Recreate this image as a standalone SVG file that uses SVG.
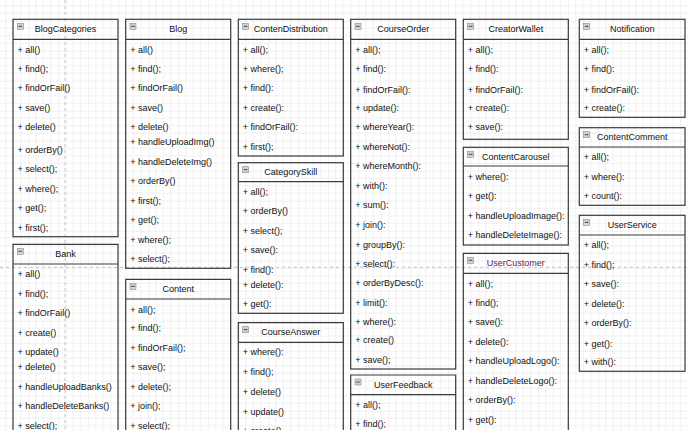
<svg xmlns="http://www.w3.org/2000/svg" width="688" height="430" viewBox="0 0 688 430">
<style>
.box{fill:none;stroke:#3a3a3a;stroke-width:1.2}
.sep{stroke:#3a3a3a;stroke-width:1.2}
.ico{fill:#d2d2d2;stroke:#8a8a8a;stroke-width:0.6}
.icm{stroke:#333;stroke-width:0.9}
.t{font-family:"Liberation Sans",Arial,sans-serif;font-size:9px;fill:#111}
.h{font-family:"Liberation Sans",Arial,sans-serif;font-size:9px;fill:#111;text-anchor:middle}
.pb{stroke:#c4c4c4;stroke-width:1;stroke-dasharray:3,3;fill:none}
</style>
<defs>
<pattern id="grid" patternUnits="userSpaceOnUse" x="-1.7" y="-9.3" width="30" height="30">
<path d="M7.5 0V30M15 0V30M22.5 0V30M0 7.5H30M0 15H30M0 22.5H30" stroke="#f0f0f0" stroke-width="1" fill="none"/>
<path d="M0 0V30M0 0H30" stroke="#e2e2e2" stroke-width="1" fill="none"/>
</pattern>
</defs>
<rect width="688" height="430" fill="#ffffff"/>
<rect width="688" height="430" fill="url(#grid)"/>
<path class="pb" d="M65 0V430M0 267.3H688"/>
<g id="connectors"></g>

<g id="BlogCategories">
<rect class="box" x="13" y="19.3" width="105" height="217.4"/>
<line class="sep" x1="13" y1="39.3" x2="118" y2="39.3"/>
<rect class="ico" x="17.3" y="23.3" width="6" height="6"/><line class="icm" x1="18.5" y1="26.3" x2="22.1" y2="26.3"/>
<text class="h" x="65.5" y="32">BlogCategories</text>
<text class="t" x="17.5" y="52.6">+ all()</text>
<text class="t" x="17.5" y="72.3">+ find();</text>
<text class="t" x="17.5" y="91.3">+ findOrFail()</text>
<text class="t" x="17.5" y="111">+ save()</text>
<text class="t" x="17.5" y="130.3">+ delete()</text>
<text class="t" x="17.5" y="153.3">+ orderBy()</text>
<text class="t" x="17.5" y="172.3">+ select();</text>
<text class="t" x="17.5" y="192.3">+ where();</text>
<text class="t" x="17.5" y="211.3">+ get();</text>
<text class="t" x="17.5" y="231">+ first();</text>
</g>

<g id="Bank">
<path class="box" d="M13 440V244.3H118V440"/>
<line class="sep" x1="13" y1="264" x2="118" y2="264"/>
<rect class="ico" x="17.3" y="248.3" width="6" height="6"/><line class="icm" x1="18.5" y1="251.3" x2="22.1" y2="251.3"/>
<text class="h" x="65.5" y="257">Bank</text>
<text class="t" x="17.5" y="277">+ all()</text>
<text class="t" x="17.5" y="297">+ find();</text>
<text class="t" x="17.5" y="316">+ findOrFail()</text>
<text class="t" x="17.5" y="336">+ create()</text>
<text class="t" x="17.5" y="355.3">+ update()</text>
<text class="t" x="17.5" y="370">+ delete()</text>
<text class="t" x="17.5" y="390">+ handleUploadBanks()</text>
<text class="t" x="17.5" y="409">+ handleDeleteBanks()</text>
<text class="t" x="17.5" y="429">+ select();</text>
</g>

<g id="Blog">
<rect class="box" x="125.7" y="19.3" width="105" height="249"/>
<line class="sep" x1="125.7" y1="39.3" x2="230.7" y2="39.3"/>
<rect class="ico" x="130" y="23.3" width="6" height="6"/><line class="icm" x1="131.2" y1="26.3" x2="134.8" y2="26.3"/>
<text class="h" x="178.2" y="32">Blog</text>
<text class="t" x="130.2" y="52.6">+ all()</text>
<text class="t" x="130.2" y="72.3">+ find();</text>
<text class="t" x="130.2" y="91.3">+ findOrFail()</text>
<text class="t" x="130.2" y="111">+ save()</text>
<text class="t" x="130.2" y="130.3">+ delete()</text>
<text class="t" x="130.2" y="145.3">+ handleUploadImg()</text>
<text class="t" x="130.2" y="165.3">+ handleDeleteImg()</text>
<text class="t" x="130.2" y="184.3">+ orderBy()</text>
<text class="t" x="130.2" y="204">+ first();</text>
<text class="t" x="130.2" y="223.3">+ get();</text>
<text class="t" x="130.2" y="243.3">+ where();</text>
<text class="t" x="130.2" y="262.3">+ select();</text>
</g>

<g id="Content">
<path class="box" d="M125.7 440V279.3H230.7V440"/>
<line class="sep" x1="125.7" y1="299" x2="230.7" y2="299"/>
<rect class="ico" x="130" y="283.3" width="6" height="6"/><line class="icm" x1="131.2" y1="286.3" x2="134.8" y2="286.3"/>
<text class="h" x="178.2" y="292.3">Content</text>
<text class="t" x="130.2" y="312.6">+ all();</text>
<text class="t" x="130.2" y="331.3">+ find();</text>
<text class="t" x="130.2" y="351">+ findOrFail();</text>
<text class="t" x="130.2" y="370.3">+ save();</text>
<text class="t" x="130.2" y="390">+ delete();</text>
<text class="t" x="130.2" y="409.3">+ join();</text>
<text class="t" x="130.2" y="429">+ select();</text>
</g>

<g id="ContenDistribution">
<rect class="box" x="238.3" y="19.3" width="105" height="136.7"/>
<line class="sep" x1="238.3" y1="39.3" x2="343.3" y2="39.3"/>
<rect class="ico" x="242.6" y="23.3" width="6" height="6"/><line class="icm" x1="243.8" y1="26.3" x2="247.4" y2="26.3"/>
<text class="h" x="290.8" y="32">ContenDistribution</text>
<text class="t" x="242.8" y="52.6">+ all();</text>
<text class="t" x="242.8" y="72.3">+ where();</text>
<text class="t" x="242.8" y="91.3">+ find():</text>
<text class="t" x="242.8" y="111">+ create():</text>
<text class="t" x="242.8" y="130.3">+ findOrFail():</text>
<text class="t" x="242.8" y="150">+ first();</text>
</g>

<g id="CategorySkill">
<rect class="box" x="238.3" y="162.7" width="105" height="150.6"/>
<line class="sep" x1="238.3" y1="181.7" x2="343.3" y2="181.7"/>
<rect class="ico" x="242.6" y="166.7" width="6" height="6"/><line class="icm" x1="243.8" y1="169.7" x2="247.4" y2="169.7"/>
<text class="h" x="290.8" y="175">CategorySkill</text>
<text class="t" x="242.8" y="195.3">+ all();</text>
<text class="t" x="242.8" y="214.3">+ orderBy()</text>
<text class="t" x="242.8" y="234">+ select();</text>
<text class="t" x="242.8" y="253.3">+ save():</text>
<text class="t" x="242.8" y="273.3">+ find():</text>
<text class="t" x="242.8" y="288.3">+ delete():</text>
<text class="t" x="242.8" y="307.3">+ get():</text>
</g>

<g id="CourseAnswer">
<path class="box" d="M238.3 440V322.7H343.3V440"/>
<line class="sep" x1="238.3" y1="342.3" x2="343.3" y2="342.3"/>
<rect class="ico" x="242.6" y="326.7" width="6" height="6"/><line class="icm" x1="243.8" y1="329.7" x2="247.4" y2="329.7"/>
<text class="h" x="290.8" y="335">CourseAnswer</text>
<text class="t" x="242.8" y="355.3">+ where():</text>
<text class="t" x="242.8" y="375.3">+ find();</text>
<text class="t" x="242.8" y="394.6">+ delete()</text>
<text class="t" x="242.8" y="414.6">+ update()</text>
<text class="t" x="242.8" y="433.5">+ create()</text>
</g>

<g id="CourseOrder">
<rect class="box" x="350.7" y="19.3" width="105" height="349.7"/>
<line class="sep" x1="350.7" y1="39.3" x2="455.7" y2="39.3"/>
<rect class="ico" x="355" y="23.3" width="6" height="6"/><line class="icm" x1="356.2" y1="26.3" x2="359.8" y2="26.3"/>
<text class="h" x="403.2" y="32">CourseOrder</text>
<text class="t" x="355.2" y="52.6">+ all();</text>
<text class="t" x="355.2" y="72.3">+ find():</text>
<text class="t" x="355.2" y="93.3">+ findOrFail():</text>
<text class="t" x="355.2" y="111">+ update():</text>
<text class="t" x="355.2" y="130.3">+ whereYear():</text>
<text class="t" x="355.2" y="150">+ whereNot():</text>
<text class="t" x="355.2" y="169">+ whereMonth():</text>
<text class="t" x="355.2" y="189">+ with():</text>
<text class="t" x="355.2" y="208">+ sum():</text>
<text class="t" x="355.2" y="228.3">+ join():</text>
<text class="t" x="355.2" y="247.6">+ groupBy():</text>
<text class="t" x="355.2" y="267.3">+ select():</text>
<text class="t" x="355.2" y="286.3">+ orderByDesc():</text>
<text class="t" x="355.2" y="306.3">+ limit():</text>
<text class="t" x="355.2" y="325.3">+ where():</text>
<text class="t" x="355.2" y="343.3">+ create()</text>
<text class="t" x="355.2" y="363.3">+ save();</text>
</g>

<g id="UserFeedback">
<path class="box" d="M350.7 440V375H455.7V440"/>
<line class="sep" x1="350.7" y1="394.7" x2="455.7" y2="394.7"/>
<rect class="ico" x="355" y="379" width="6" height="6"/><line class="icm" x1="356.2" y1="382" x2="359.8" y2="382"/>
<text class="h" x="403.2" y="387.6">UserFeedback</text>
<text class="t" x="355.2" y="408.3">+ all();</text>
<text class="t" x="355.2" y="426.6">+ find();</text>
</g>

<g id="CreatorWallet">
<rect class="box" x="463.3" y="19.3" width="105" height="120"/>
<line class="sep" x1="463.3" y1="39.3" x2="568.3" y2="39.3"/>
<rect class="ico" x="467.6" y="23.3" width="6" height="6"/><line class="icm" x1="468.8" y1="26.3" x2="472.4" y2="26.3"/>
<text class="h" x="515.8" y="32">CreatorWallet</text>
<text class="t" x="467.8" y="52.6">+ all();</text>
<text class="t" x="467.8" y="72.3">+ find():</text>
<text class="t" x="467.8" y="93.3">+ findOrFail():</text>
<text class="t" x="467.8" y="111">+ create():</text>
<text class="t" x="467.8" y="130.3">+ save():</text>
</g>

<g id="ContentCarousel">
<rect class="box" x="463.3" y="147.3" width="105" height="97.7"/>
<line class="sep" x1="463.3" y1="166" x2="568.3" y2="166"/>
<rect class="ico" x="467.6" y="151.3" width="6" height="6"/><line class="icm" x1="468.8" y1="154.3" x2="472.4" y2="154.3"/>
<text class="h" x="515.8" y="160">ContentCarousel</text>
<text class="t" x="467.8" y="180">+ where():</text>
<text class="t" x="467.8" y="199.3">+ get():</text>
<text class="t" x="467.8" y="219.3">+ handleUploadImage():</text>
<text class="t" x="467.8" y="238">+ handleDeleteImage():</text>
</g>

<g id="UserCustomer">
<path class="box" d="M463.3 440V253.3H568.3V440"/>
<line class="sep" x1="463.3" y1="273.3" x2="568.3" y2="273.3"/>
<rect class="ico" x="467.6" y="257.3" width="6" height="6"/><line class="icm" x1="468.8" y1="260.3" x2="472.4" y2="260.3"/>
<text class="h" x="515.8" y="266" style="fill:#6a2060">UserCustomer</text>
<text class="t" x="467.8" y="286.6">+ all();</text>
<text class="t" x="467.8" y="306">+ find();</text>
<text class="t" x="467.8" y="325.3">+ save():</text>
<text class="t" x="467.8" y="345.3">+ delete():</text>
<text class="t" x="467.8" y="364.3">+ handleUploadLogo():</text>
<text class="t" x="467.8" y="384.3">+ handleDeleteLogo():</text>
<text class="t" x="467.8" y="403.3">+ orderBy():</text>
<text class="t" x="467.8" y="423.3">+ get():</text>
</g>

<g id="Notification">
<rect class="box" x="579.3" y="19.3" width="105.7" height="98"/>
<line class="sep" x1="579.3" y1="39.3" x2="685" y2="39.3"/>
<rect class="ico" x="583.6" y="23.3" width="6" height="6"/><line class="icm" x1="584.8" y1="26.3" x2="588.4" y2="26.3"/>
<text class="h" x="632.2" y="32">Notification</text>
<text class="t" x="583.8" y="52.6">+ all();</text>
<text class="t" x="583.8" y="72.3">+ find():</text>
<text class="t" x="583.8" y="93.3">+ findOrFail():</text>
<text class="t" x="583.8" y="111">+ create():</text>
</g>

<g id="ContentComment">
<rect class="box" x="579.3" y="127.7" width="105.7" height="77.6"/>
<line class="sep" x1="579.3" y1="147" x2="685" y2="147"/>
<rect class="ico" x="583.6" y="131.7" width="6" height="6"/><line class="icm" x1="584.8" y1="134.7" x2="588.4" y2="134.7"/>
<text class="h" x="632.2" y="140">ContentComment</text>
<text class="t" x="583.8" y="160">+ all();</text>
<text class="t" x="583.8" y="180">+ where():</text>
<text class="t" x="583.8" y="199.3">+ count():</text>
</g>

<g id="UserService">
<rect class="box" x="579.3" y="215.3" width="105.7" height="156"/>
<line class="sep" x1="579.3" y1="235" x2="685" y2="235"/>
<rect class="ico" x="583.6" y="219.3" width="6" height="6"/><line class="icm" x1="584.8" y1="222.3" x2="588.4" y2="222.3"/>
<text class="h" x="632.2" y="228.3">UserService</text>
<text class="t" x="583.8" y="248.3">+ all();</text>
<text class="t" x="583.8" y="268.3">+ find();</text>
<text class="t" x="583.8" y="287.3">+ save():</text>
<text class="t" x="583.8" y="306.6">+ delete():</text>
<text class="t" x="583.8" y="326">+ orderBy():</text>
<text class="t" x="583.8" y="346.6">+ get():</text>
<text class="t" x="583.8" y="365.3">+ with():</text>
</g>
</svg>
